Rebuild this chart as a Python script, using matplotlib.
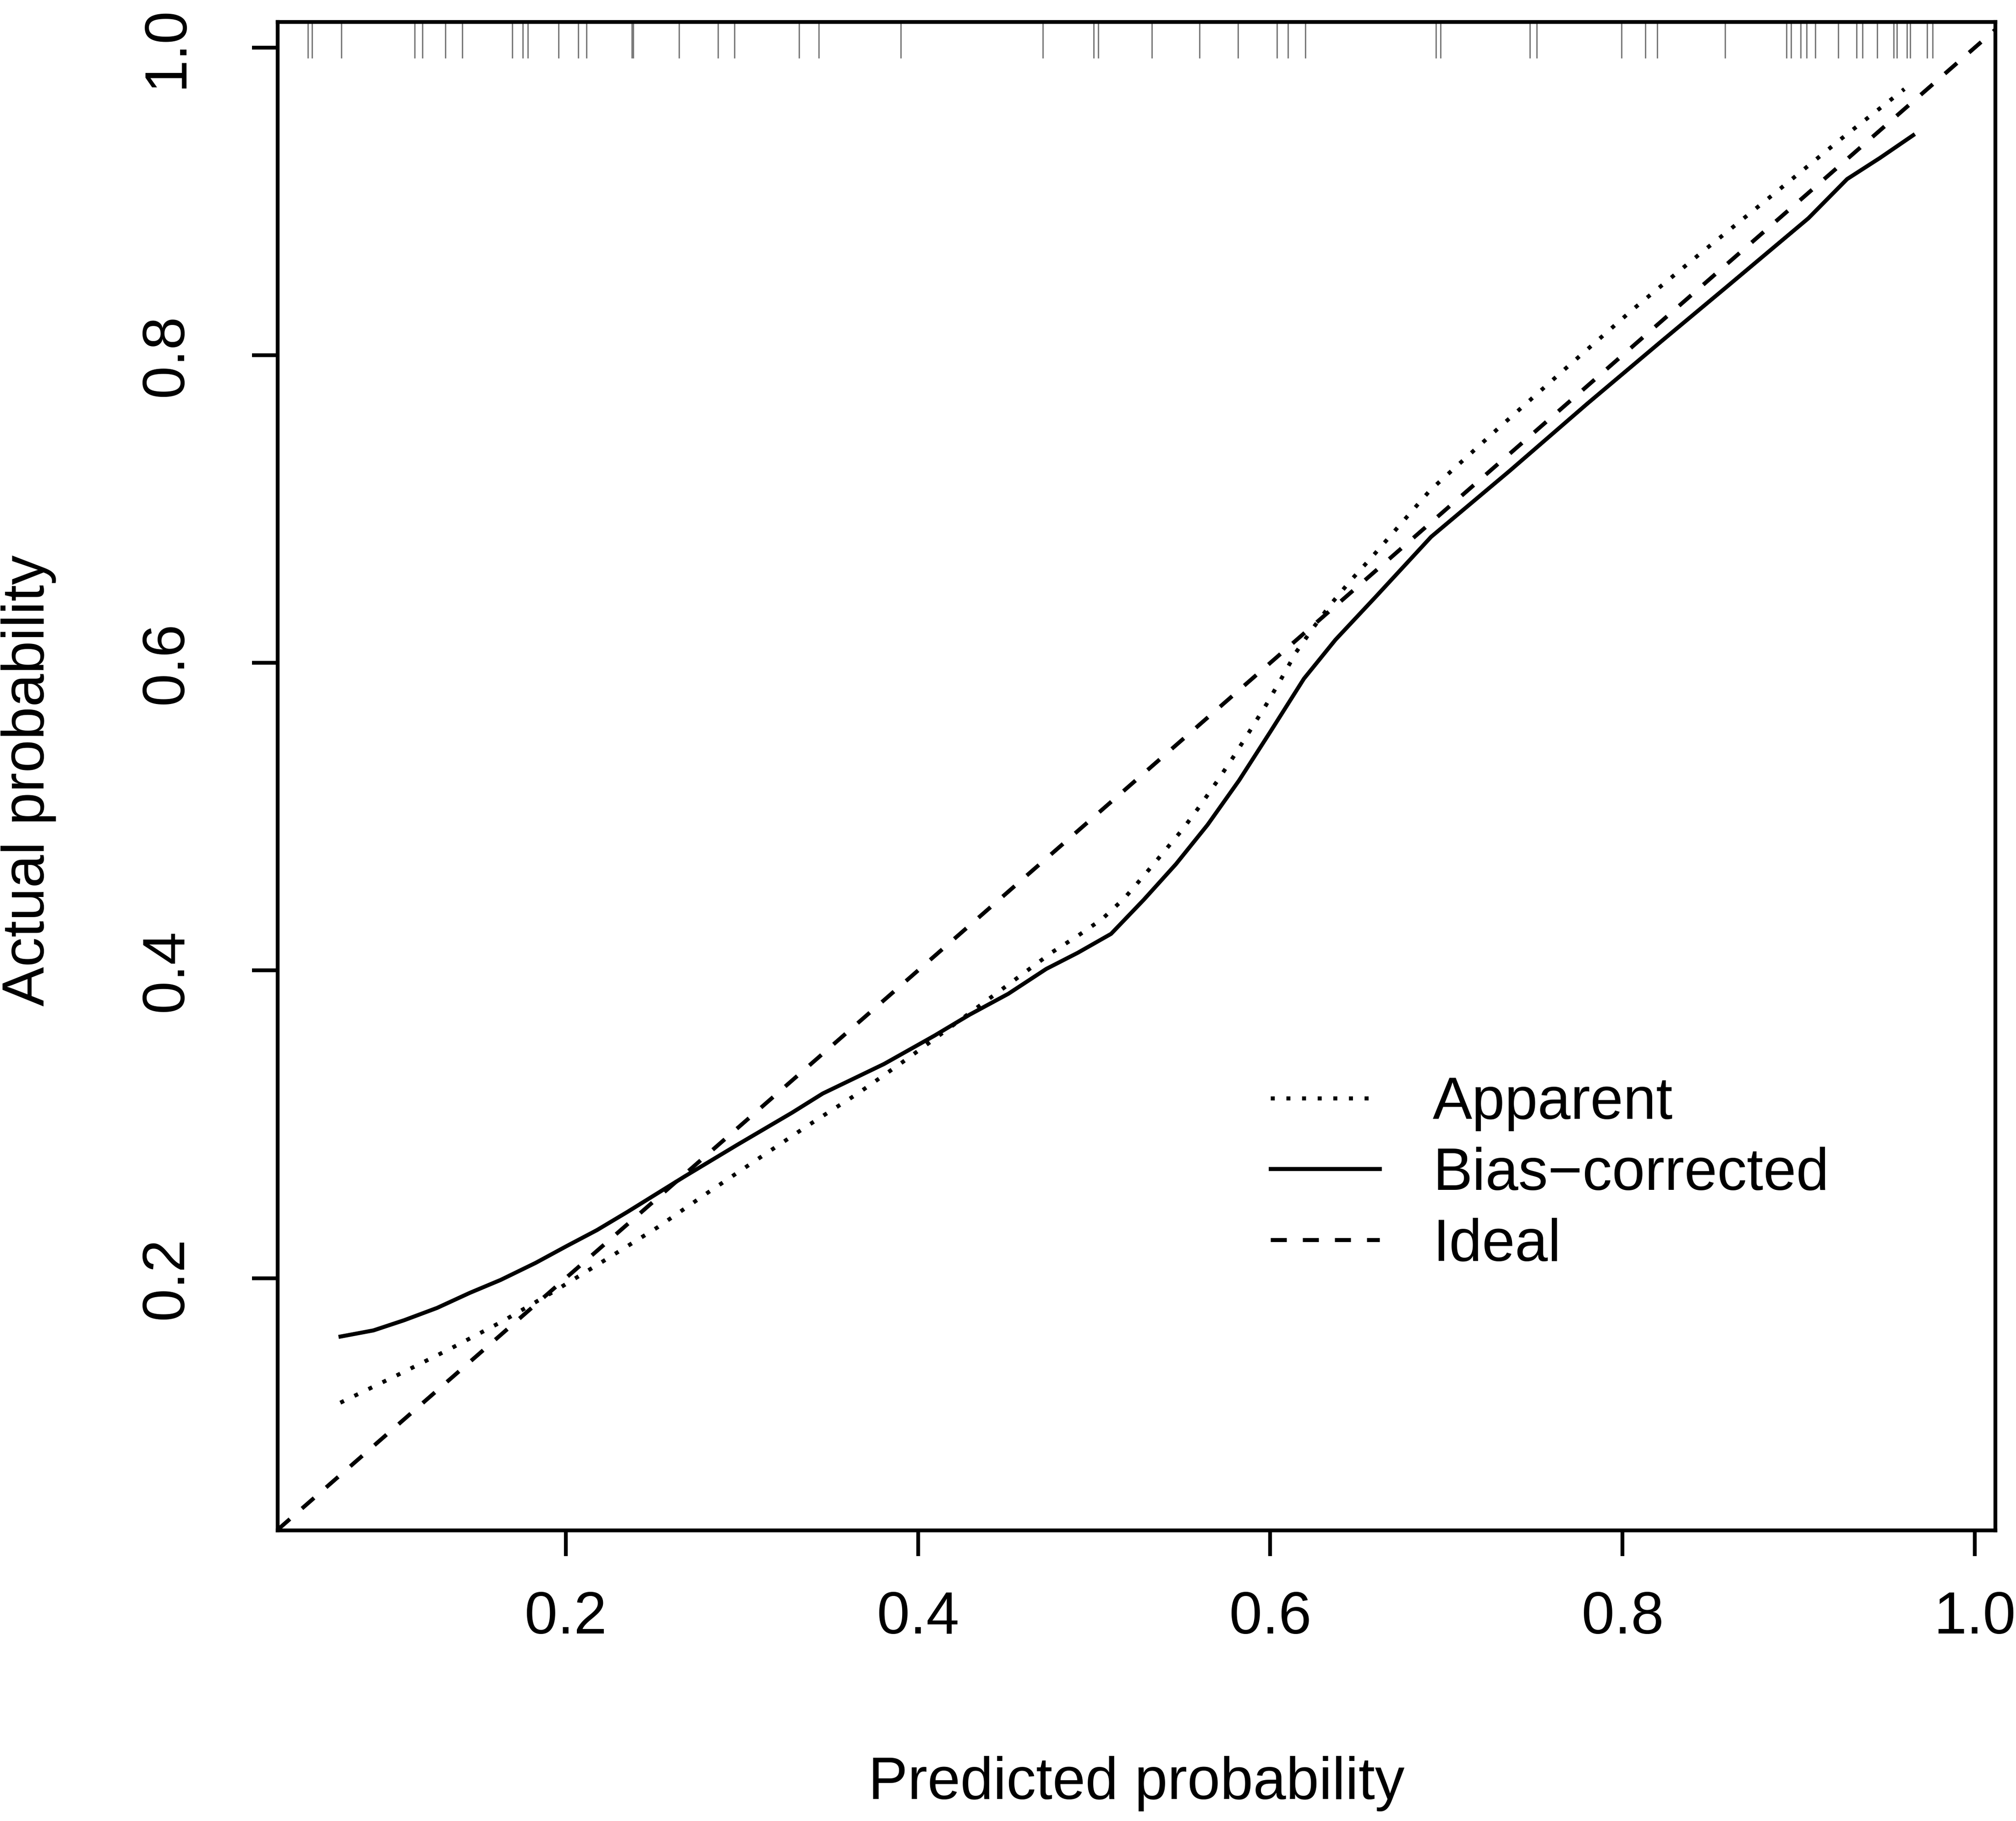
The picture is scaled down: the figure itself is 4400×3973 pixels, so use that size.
import matplotlib
matplotlib.use('Agg')
import matplotlib.pyplot as plt

plt.rcParams['font.family'] = ['Liberation Sans', 'DejaVu Sans']

# Apparent 曲线 (dotted)
apparent_x = [0.072, 0.1045, 0.1343, 0.1642, 0.1928, 0.2227, 0.2521, 0.2799, 0.3085,
              0.3372, 0.3658, 0.3944, 0.4218, 0.4491, 0.4763, 0.4907, 0.5046, 0.5172,
              0.5285, 0.5395, 0.5504, 0.5604, 0.5704, 0.5797, 0.5888, 0.5978, 0.6064,
              0.6147, 0.6245, 0.6350, 0.6460, 0.6571, 0.6906, 0.7290, 0.7673, 0.8061,
              0.8451, 0.8850, 0.9245, 0.9600]
apparent_y = [0.119, 0.137, 0.154, 0.172, 0.191, 0.212, 0.233, 0.255, 0.277,
              0.299, 0.320, 0.343, 0.366, 0.389, 0.412, 0.4225, 0.4335, 0.447,
              0.462, 0.477, 0.492, 0.5075, 0.524, 0.540, 0.5565, 0.573, 0.590,
              0.607, 0.623, 0.639, 0.654, 0.668, 0.712, 0.752, 0.791, 0.830,
              0.867, 0.904, 0.941, 0.973]

# Bias-corrected 曲线 (solid)
bias_x = [0.0721, 0.0908, 0.1082, 0.1269, 0.1455, 0.1630, 0.1829, 0.2003, 0.2177,
          0.2351, 0.2675, 0.2973, 0.3284, 0.3459, 0.3807, 0.4093, 0.4292, 0.4512,
          0.4728, 0.4907, 0.5096, 0.5281, 0.5464, 0.5644, 0.5823, 0.6002, 0.6191,
          0.6370, 0.6599, 0.6913, 0.7359, 0.7800, 0.8219, 0.8590, 0.9055, 0.9275,
          0.9461, 0.9650]
bias_y = [0.162, 0.166, 0.1726, 0.1806, 0.1904, 0.1988, 0.2099, 0.2207, 0.2312,
          0.2431, 0.2661, 0.2866, 0.3075, 0.3200, 0.3392, 0.3576, 0.3712, 0.3848,
          0.4010, 0.4115, 0.4238, 0.4459, 0.4691, 0.4947, 0.5236, 0.5555, 0.5897,
          0.6150, 0.6430, 0.6819, 0.7248, 0.7685, 0.8089, 0.8443, 0.8890, 0.9145,
          0.9282, 0.9430]

# 顶部 rug (predicted probabilities)
rug_x = [0.0537, 0.0558, 0.0727, 0.1141, 0.1186, 0.1316, 0.1413, 0.1695, 0.1755,
         0.1784, 0.1960, 0.2071, 0.2118, 0.2375, 0.2383, 0.2644, 0.2864, 0.2959,
         0.3324, 0.3436, 0.3903, 0.4708, 0.4997, 0.5022, 0.5327, 0.5598, 0.5816,
         0.6039, 0.6099, 0.6200, 0.6940, 0.6966, 0.7474, 0.7513, 0.7994, 0.8130,
         0.8197, 0.8583, 0.8930, 0.8956, 0.9012, 0.9045, 0.9094, 0.9224, 0.9329,
         0.9361, 0.9446, 0.9538, 0.9558, 0.9614, 0.9633, 0.9730, 0.9760]

ticks = [0.2, 0.4, 0.6, 0.8, 1.0]
tick_labels = ['0.2', '0.4', '0.6', '0.8', '1.0']

fig = plt.figure(figsize=(4400 / 300, 3973 / 300), dpi=300)
ax = fig.add_axes([0.1378, 0.1596, 0.852, 0.8284])

lw = 2.1
ax.plot(apparent_x, apparent_y, color='black', lw=lw, linestyle=(0, (1, 2.9)),
        label='Apparent')
ax.plot(bias_x, bias_y, color='black', lw=lw, label='Bias\u2212corrected')
ax.axline((0, 0), (1, 1), color='black', lw=lw, linestyle=(0, (4, 4)),
          label='Ideal')

# rug
ax.vlines(rug_x, 0.976, 1.0, transform=ax.get_xaxis_transform(),
          color='#777777', lw=0.7)

ax.set_xlim(0.0365, 1.0117)
ax.set_ylim(0.036, 1.0167)

ax.set_xticks(ticks)
ax.set_xticklabels(tick_labels)
ax.set_yticks(ticks)
ax.set_yticklabels(tick_labels, rotation=90, va='center')

ax.tick_params(axis='both', direction='out', length=13.5, width=2.0,
               labelsize=31)
ax.tick_params(axis='x', pad=18)
ax.tick_params(axis='y', pad=30)
for s in ax.spines.values():
    s.set_linewidth(2.0)

ax.set_xlabel('Predicted probability', fontsize=31)
ax.xaxis.label.set_va('center')
ax.xaxis.set_label_coords(0.5, -0.168)
ax.set_ylabel('Actual probability', fontsize=31)
ax.yaxis.label.set_va('center')
ax.yaxis.set_label_coords(-0.145, 0.497)

ax.legend(loc='center left', bbox_to_anchor=(0.578, 0.236), frameon=False,
          fontsize=31, handlelength=1.84, handletextpad=0.9, borderpad=0,
          borderaxespad=0, labelspacing=0.26)

fig.savefig('out.png', dpi=300)
